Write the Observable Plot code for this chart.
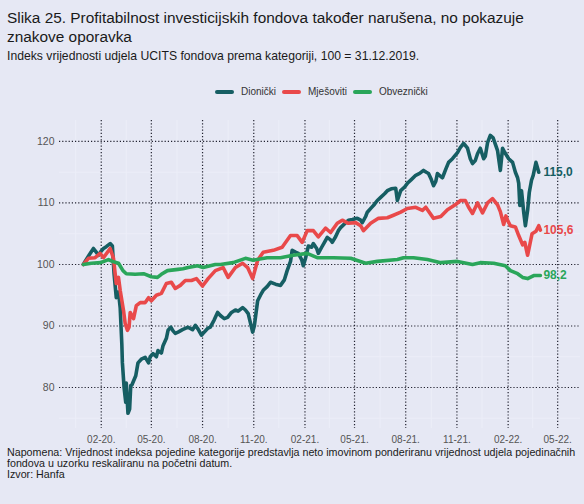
<!DOCTYPE html>
<html>
<head>
<meta charset="utf-8">
<script src="https://cdn.jsdelivr.net/npm/d3@7"></script>
<script src="https://cdn.jsdelivr.net/npm/@observablehq/plot@0.6"></script>
<style>
html,body{margin:0;padding:0;background:#ffffff;}
#wrap{position:relative;width:584px;height:504px;background:#e6e8f4;font-family:"Liberation Sans",Arial,sans-serif;overflow:hidden;}
#title{position:absolute;left:7px;top:8px;font-size:15.4px;line-height:19px;color:#1a1a1a;white-space:nowrap;}
#subtitle{position:absolute;left:7px;top:49px;font-size:12.2px;color:#1a1a1a;white-space:nowrap;}
#legend{position:absolute;left:215px;top:86px;display:flex;align-items:center;font-size:10px;color:#333;white-space:nowrap;}
#legend .it{display:flex;align-items:center;margin-right:6px;}
#legend svg{margin-right:7px;}
#chart{position:absolute;left:0;top:110px;}
#note{position:absolute;left:7px;top:447px;font-size:10.7px;line-height:10.8px;color:#1a1a1a;white-space:nowrap;}
</style>
</head>
<body>
<div id="wrap">
  <div id="title">Slika 25. Profitabilnost investicijskih fondova također narušena, no pokazuje<br>znakove oporavka</div>
  <div id="subtitle">Indeks vrijednosti udjela UCITS fondova prema kategoriji, 100 = 31.12.2019.</div>
  <div id="legend"></div>
  <div id="chart"></div>
  <div id="note">Napomena: Vrijednost indeksa pojedine kategorije predstavlja neto imovinom ponderiranu vrijednost udjela pojedinačnih<br>fondova u uzorku reskaliranu na početni datum.<br>Izvor: Hanfa</div>
</div>
<script>
// ---------- DATA ----------
const seriesNames = ["Dionički", "Mješoviti", "Obveznički"];
const seriesColors = ["#165e63", "#e9494a", "#2aa65a"];

const dionickiDates = ["2019-12-31","2020-01-03","2020-01-10","2020-01-18","2020-01-23","2020-01-27","2020-02-01","2020-02-05","2020-02-10","2020-02-17","2020-02-21","2020-02-24","2020-02-28","2020-03-03","2020-03-06","2020-03-09","2020-03-10","2020-03-13","2020-03-16","2020-03-17","2020-03-18","2020-03-20","2020-03-23","2020-03-25","2020-03-27","2020-04-03","2020-04-07","2020-04-13","2020-04-20","2020-04-26","2020-04-29","2020-05-04","2020-05-10","2020-05-13","2020-05-19","2020-05-22","2020-05-28","2020-05-31","2020-06-05","2020-06-09","2020-06-13","2020-06-18","2020-06-26","2020-07-06","2020-07-14","2020-07-19","2020-07-24","2020-07-30","2020-08-02","2020-08-10","2020-08-15","2020-08-22","2020-08-28","2020-09-02","2020-09-09","2020-09-15","2020-09-22","2020-09-29","2020-10-04","2020-10-12","2020-10-17","2020-10-22","2020-10-26","2020-10-30","2020-11-02","2020-11-08","2020-11-13","2020-11-18","2020-11-25","2020-12-01","2020-12-10","2020-12-19","2020-12-26","2020-12-31","2021-01-06","2021-01-09","2021-01-15","2021-01-20","2021-01-26","2021-01-29","2021-02-02","2021-02-07","2021-02-13","2021-02-16","2021-02-22","2021-02-25","2021-03-03","2021-03-08","2021-03-13","2021-03-19","2021-03-22","2021-03-28","2021-04-02","2021-04-06","2021-04-13","2021-04-20","2021-04-27","2021-05-06","2021-05-12","2021-05-15","2021-05-21","2021-05-24","2021-05-31","2021-06-06","2021-06-11","2021-06-17","2021-06-24","2021-06-29","2021-07-06","2021-07-14","2021-07-17","2021-07-23","2021-07-30","2021-08-04","2021-08-11","2021-08-19","2021-08-26","2021-09-02","2021-09-07","2021-09-11","2021-09-16","2021-09-20","2021-09-24","2021-09-27","2021-10-03","2021-10-06","2021-10-12","2021-10-17","2021-10-24","2021-11-02","2021-11-07","2021-11-13","2021-11-20","2021-11-25","2021-11-29","2021-12-04","2021-12-08","2021-12-13","2021-12-19","2021-12-22","2021-12-26","2021-12-31","2022-01-05","2022-01-08","2022-01-13","2022-01-18","2022-01-22","2022-01-26","2022-02-02","2022-02-09","2022-02-14","2022-02-18","2022-02-20","2022-02-22","2022-02-25","2022-03-01","2022-03-04","2022-03-08","2022-03-11","2022-03-15","2022-03-18","2022-03-23","2022-03-28","2022-03-31"];
const dionickiValues = [100,100.5,101.5,102.6,102.0,101.5,102.2,102.6,102.9,103.4,103.0,98.5,94.6,95.5,93.0,87.0,84.0,80.0,77.6,80.7,79.0,75.8,76.5,80.3,80.4,81.9,84.0,84.6,84.9,84.0,85.0,85.5,85.0,86.0,85.6,86.8,88.0,89.3,89.8,89.2,88.8,89.0,89.4,89.8,89.4,90.1,89.5,88.5,88.8,89.6,89.8,91.0,92.2,91.7,91.2,91.4,92.2,92.6,92.4,93.0,92.6,92.0,90.5,89.0,90.0,94.1,95.0,95.8,96.4,97.1,96.8,96.6,97.5,99.0,100.5,102.3,102.0,101.8,100.8,99.8,101.0,103.0,102.8,103.4,102.6,101.8,102.8,103.6,104.4,104.0,103.6,104.5,105.5,106.0,106.6,107.2,107.3,107.5,107.2,106.8,107.8,108.5,109.2,109.8,110.4,110.9,111.5,112.0,112.3,112.4,110.4,112.0,112.6,113.2,113.8,114.5,114.8,115.3,115.0,114.8,113.8,112.8,113.5,114.8,114.3,114.1,115.5,116.6,117.2,118.2,119.0,119.7,118.9,117.2,116.4,116.9,118.0,118.9,117.2,117.6,119.8,121.0,120.6,119.8,118.5,115.3,118.9,118.2,117.2,116.6,115.0,114.1,113.2,109.6,112.0,108.5,106.3,108.8,111.7,113.7,114.5,116.6,115.0];

const mjesovitiDates = ["2019-12-31","2020-01-09","2020-01-21","2020-01-30","2020-02-05","2020-02-17","2020-02-23","2020-02-26","2020-02-28","2020-03-03","2020-03-06","2020-03-12","2020-03-15","2020-03-19","2020-03-22","2020-03-24","2020-03-30","2020-04-04","2020-04-11","2020-04-20","2020-04-26","2020-05-01","2020-05-10","2020-05-19","2020-05-28","2020-06-06","2020-06-13","2020-06-22","2020-07-01","2020-07-12","2020-07-21","2020-08-01","2020-08-11","2020-08-24","2020-09-07","2020-09-16","2020-09-29","2020-10-12","2020-10-21","2020-10-30","2020-11-08","2020-11-18","2020-12-06","2020-12-22","2021-01-06","2021-01-18","2021-01-27","2021-02-05","2021-02-16","2021-02-25","2021-03-10","2021-03-19","2021-03-31","2021-04-09","2021-04-20","2021-05-03","2021-05-12","2021-05-17","2021-05-30","2021-06-13","2021-06-29","2021-07-10","2021-07-23","2021-08-04","2021-08-19","2021-08-31","2021-09-06","2021-09-20","2021-10-03","2021-10-15","2021-10-29","2021-11-07","2021-11-16","2021-11-22","2021-11-29","2021-12-08","2021-12-17","2021-12-26","2022-01-04","2022-01-13","2022-01-18","2022-01-24","2022-01-28","2022-01-31","2022-02-05","2022-02-14","2022-02-20","2022-02-27","2022-03-03","2022-03-06","2022-03-08","2022-03-11","2022-03-16","2022-03-23","2022-03-28","2022-03-31"];
const mjesovitiValues = [100,101.0,101.1,101.8,101.1,102.6,101.0,98.5,96.9,97.9,95.8,92.5,90.4,89.3,89.8,92.2,91.2,93.3,93.8,93.8,94.6,94.1,95.0,95.3,96.9,97.1,96.1,96.6,97.4,97.4,97.7,96.5,97.7,99.0,99.5,97.9,99.5,100.2,99.5,97.7,100.7,102.0,102.3,102.8,104.7,104.7,103.6,105.5,105.5,104.5,105.9,105.2,106.7,107.2,106.7,106.8,106.3,105.5,106.7,107.5,107.6,108.0,108.5,109.1,109.3,108.8,109.3,107.5,107.8,108.9,109.7,110.4,110.4,109.3,108.3,110.0,108.4,110.0,110.7,109.7,108.6,106.5,107.9,107.2,106.3,106.1,104.7,103.2,103.6,102.3,101.5,102.8,105.0,105.4,106.3,105.6];

const obveznickiDates = ["2019-12-31","2020-01-14","2020-01-31","2020-02-14","2020-02-21","2020-03-03","2020-03-11","2020-03-17","2020-04-02","2020-04-17","2020-05-01","2020-05-12","2020-05-19","2020-05-30","2020-06-18","2020-06-27","2020-07-06","2020-07-23","2020-08-02","2020-08-24","2020-09-02","2020-09-25","2020-10-17","2020-10-31","2020-11-25","2020-12-19","2021-01-11","2021-02-05","2021-02-23","2021-03-24","2021-04-24","2021-05-21","2021-06-11","2021-07-17","2021-07-28","2021-08-15","2021-09-09","2021-10-03","2021-11-02","2021-11-29","2021-12-13","2022-01-06","2022-01-27","2022-02-05","2022-02-18","2022-02-27","2022-03-08","2022-03-19","2022-03-31"];
const obveznickiValues = [100,100.2,100.3,100.8,100.5,100.2,99.0,98.5,98.4,98.5,98.0,97.9,98.4,99.0,99.2,99.3,99.5,99.8,99.5,100.0,100.0,100.3,101.0,100.7,101.1,101.1,101.5,101.8,101.1,101.1,101.0,100.2,100.5,100.8,101.1,101.1,100.8,100.3,100.5,100.0,100.3,100.2,99.8,99.0,98.5,97.9,97.7,98.2,98.2];

const endLabels = ["115,0", "105,6", "98,2"];

const yTicks = [80, 90, 100, 110, 120];
const yMinor = [75, 85, 95, 105, 115];
const xTickDates = ["2020-02-01","2020-05-01","2020-08-01","2020-11-01","2021-02-01","2021-05-01","2021-08-01","2021-11-01","2022-02-01","2022-05-01"];
const xMinorDates = ["2019-12-17","2020-03-17","2020-06-16","2020-09-16","2020-12-16","2021-03-17","2021-06-16","2021-09-16","2021-12-16","2022-03-17"];

// ---------- BUILD ----------
const parse = s => new Date(s + "T00:00:00Z");
const seriesDates = [dionickiDates, mjesovitiDates, obveznickiDates];
const seriesValues = [dionickiValues, mjesovitiValues, obveznickiValues];
const rows = seriesNames.flatMap((name, k) =>
  seriesDates[k].map((d, i) => ({series: name, date: parse(d), value: seriesValues[k][i]})));
const lastRows = seriesNames.map((name, k) => ({
  series: name,
  date: parse(seriesDates[k][seriesDates[k].length - 1]),
  value: seriesValues[k][seriesValues[k].length - 1],
  label: endLabels[k],
  color: seriesColors[k]
}));

const fmt = d3.utcFormat("%m-%y.");

const chart = Plot.plot({
  width: 584,
  height: 336,
  marginLeft: 59,
  marginRight: 4,
  marginTop: 10,
  marginBottom: 18,
  style: {background: "transparent", fontFamily: "'Liberation Sans', Arial, sans-serif", fontSize: "10px", color: "#555"},
  x: {type: "utc", domain: [parse("2019-11-18"), parse("2022-06-11")], label: null},
  y: {domain: [73.33, 123.41], label: null},
  color: {domain: seriesNames, range: seriesColors},
  marks: [
    Plot.ruleY(yMinor, {stroke: "#eceef8", strokeWidth: 1}),
    Plot.ruleX(xMinorDates.map(parse), {stroke: "#eceef8", strokeWidth: 1}),
    Plot.ruleY(yTicks, {stroke: "#222230", strokeWidth: 1.2, strokeDasharray: "1.2,2"}),
    Plot.ruleX(xTickDates.map(parse), {stroke: "#222230", strokeWidth: 1.2, strokeDasharray: "1.2,2"}),
    Plot.axisY(yTicks, {tickSize: 0, tickPadding: 5, fontSize: 10.5, fill: "#555", label: null}),
    Plot.axisX(xTickDates.map(parse), {tickSize: 0, tickPadding: 7, tickFormat: fmt, fontSize: 10, fill: "#555", label: null}),
    Plot.lineY(rows, {x: "date", y: "value", z: "series", stroke: "series", strokeWidth: 3.6, strokeLinejoin: "round", strokeLinecap: "round"}),
    Plot.text(lastRows, {x: "date", y: "value", text: "label", fill: "color", dx: 3, textAnchor: "start", fontWeight: "bold", fontSize: 12})
  ]
});
document.getElementById("chart").appendChild(chart);

// legend
const legend = document.getElementById("legend");
seriesNames.forEach((name, k) => {
  const it = document.createElement("div");
  it.className = "it";
  it.innerHTML = `<svg width="19" height="8"><line x1="2" y1="4" x2="17" y2="4" stroke="${seriesColors[k]}" stroke-width="4" stroke-linecap="round"/></svg><span>${name}</span>`;
  legend.appendChild(it);
});
</script>
</body>
</html>
